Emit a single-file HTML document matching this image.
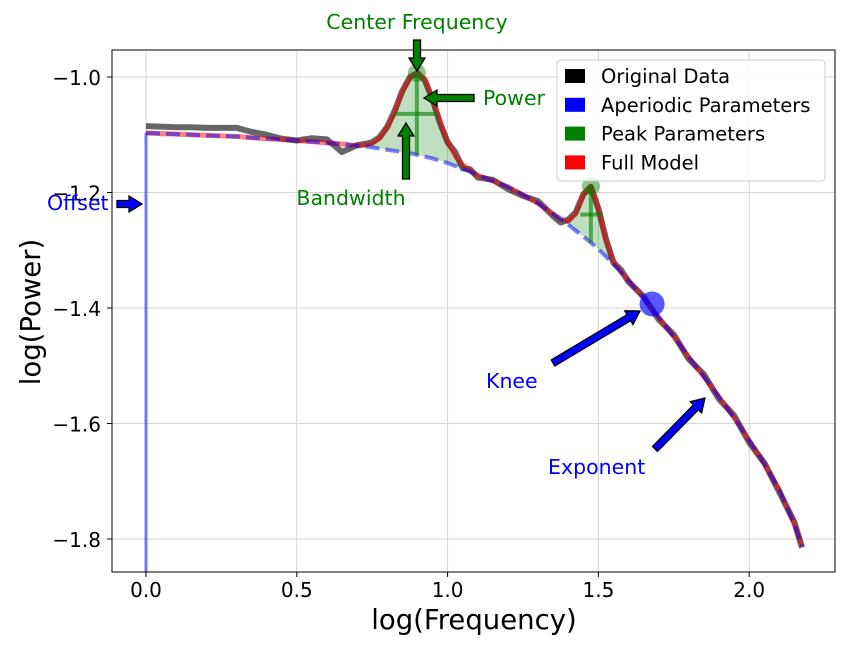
<!DOCTYPE html>
<html><head><meta charset="utf-8"><style>
body{margin:0;background:#fff}
svg text{font-family:"DejaVu Sans","Liberation Sans",sans-serif}
</style></head><body>
<svg id="chart" width="850" height="650" xmlns="http://www.w3.org/2000/svg">
<g id="grid"></g>
<g id="plot"></g>
<g id="axes"></g>
<g id="annot"></g>
<g id="legend"></g>
</svg>
<script>
const freqs=[0,0.05,0.1,0.15,0.2,0.25,0.3,0.35,0.4,0.45,0.5,0.55,0.6,0.65,0.7,0.725,0.75,0.775,0.8,0.825,0.85,0.875,0.9,0.925,0.95,0.975,1.0,1.025,1.05,1.075,1.1,1.15,1.2,1.25,1.3,1.35,1.375,1.4,1.425,1.45,1.475,1.5,1.525,1.55,1.575,1.6,1.65,1.7,1.75,1.8,1.85,1.9,1.95,2.0,2.05,2.1,2.15,2.175];
const aperiodic=[-1.097,-1.098,-1.099,-1.100,-1.101,-1.102,-1.103,-1.105,-1.107,-1.108,-1.110,-1.112,-1.114,-1.116,-1.119,-1.120,-1.122,-1.124,-1.126,-1.128,-1.130,-1.132,-1.135,-1.138,-1.141,-1.145,-1.149,-1.154,-1.159,-1.164,-1.170,-1.180,-1.190,-1.204,-1.219,-1.237,-1.246,-1.256,-1.266,-1.276,-1.287,-1.298,-1.311,-1.324,-1.338,-1.352,-1.383,-1.416,-1.450,-1.485,-1.519,-1.554,-1.590,-1.629,-1.670,-1.715,-1.775,-1.812];
const fullModel=[-1.097,-1.098,-1.099,-1.100,-1.101,-1.102,-1.103,-1.105,-1.107,-1.108,-1.110,-1.112,-1.114,-1.116,-1.119,-1.118,-1.115,-1.106,-1.088,-1.060,-1.026,-1.001,-0.993,-1.004,-1.037,-1.077,-1.111,-1.136,-1.152,-1.162,-1.170,-1.180,-1.190,-1.204,-1.219,-1.237,-1.246,-1.250,-1.237,-1.204,-1.189,-1.226,-1.282,-1.318,-1.338,-1.352,-1.383,-1.416,-1.450,-1.485,-1.519,-1.554,-1.590,-1.629,-1.670,-1.715,-1.775,-1.812];
const data=[-1.085,-1.086,-1.087,-1.087,-1.088,-1.088,-1.088,-1.095,-1.100,-1.107,-1.110,-1.106,-1.108,-1.130,-1.118,-1.116,-1.113,-1.104,-1.086,-1.058,-1.024,-1.000,-0.993,-1.006,-1.039,-1.080,-1.113,-1.130,-1.158,-1.160,-1.174,-1.178,-1.194,-1.206,-1.215,-1.241,-1.252,-1.247,-1.234,-1.203,-1.190,-1.228,-1.280,-1.322,-1.334,-1.355,-1.380,-1.420,-1.446,-1.489,-1.515,-1.558,-1.586,-1.633,-1.668,-1.719,-1.771,-1.815];
const xTicks=[0.0,0.5,1.0,1.5,2.0];
const yTicks=[-1.0,-1.2,-1.4,-1.6,-1.8];
const peakCenters=[0.898,1.475];
const peakPowers=[-0.993,-1.189];
const peakBands=[[0.822,0.965],[1.44,1.515]];
const kneePoint=[1.678,-1.393];
const legendLabels=["Original Data","Aperiodic Parameters","Peak Parameters","Full Model"];
const legendColors=["#000","#00f","#008000","#f00"];

const L=112,R=835,T=50,B=572;
const X=v=>146+(v)*301.6;
const Y=v=>77-(v+1.0)*577.5;
const NS="http://www.w3.org/2000/svg";
function mk(tag,attrs,parent,txt){const e=document.createElementNS(NS,tag);for(const k in attrs)e.setAttribute(k,attrs[k]);if(txt!==undefined)e.textContent=txt;parent.appendChild(e);return e;}
const grid=document.getElementById('grid'),plot=document.getElementById('plot'),axes=document.getElementById('axes'),annot=document.getElementById('annot'),legend=document.getElementById('legend');

xTicks.forEach(t=>{
 const gl=mk('line',{x1:X(t),x2:X(t),y1:T,y2:B,stroke:'#d3d3d3','stroke-width':1},grid);
 
 const tk=mk('line',{x1:X(t),x2:X(t),y1:B,y2:B+5,stroke:'#000'},axes);
 
 const tl=mk('text',{x:X(t),y:B+25,'font-size':20,'text-anchor':'middle'},axes,t.toFixed(1));
 
});
yTicks.forEach(t=>{
 const gl=mk('line',{x1:L,x2:R,y1:Y(t),y2:Y(t),stroke:'#d3d3d3','stroke-width':1},grid);
 
 const tk=mk('line',{x1:L-5,x2:L,y1:Y(t),y2:Y(t),stroke:'#000'},axes);
 
 const tl=mk('text',{x:L-11,y:Y(t)+8,'font-size':20,'text-anchor':'end'},axes,'\u2212'+Math.abs(t).toFixed(1));
 
});

function pts(ys){return freqs.map((f,i)=>X(f)+','+Y(ys[i])).join(' ');}
[[0.725,1.1],[1.375,1.575]].forEach(r=>{
 const idx=freqs.map((f,i)=>i).filter(i=>freqs[i]>=r[0]-1e-9&&freqs[i]<=r[1]+1e-9);
 const top=idx.map(i=>X(freqs[i])+','+Y(fullModel[i]));
 const bot=idx.slice().reverse().map(i=>X(freqs[i])+','+Y(aperiodic[i]));
 const p=mk('polygon',{points:top.concat(bot).join(' '),fill:'#008000','fill-opacity':0.25},plot);
 
});
const off=mk('line',{x1:X(0),x2:X(0),y1:Y(aperiodic[0]),y2:B,stroke:'#00f','stroke-opacity':0.5,'stroke-width':3},plot);

const dl=mk('polyline',{points:pts(data),fill:'none',stroke:'#000','stroke-opacity':0.6,'stroke-width':6,'stroke-linejoin':'round'},plot);

const fl=mk('polyline',{points:pts(fullModel),fill:'none',stroke:'#f00','stroke-opacity':0.5,'stroke-width':5,'stroke-linejoin':'round'},plot);

const al=mk('polyline',{points:pts(aperiodic),fill:'none',stroke:'#00f','stroke-opacity':0.5,'stroke-width':4,'stroke-dasharray':'14 6'},plot);


peakCenters.forEach((c,k)=>{
 let ap=aperiodic[0];
 for(let i=1;i<freqs.length;i++){if(freqs[i]>=c){const t=(c-freqs[i-1])/(freqs[i]-freqs[i-1]);ap=aperiodic[i-1]+t*(aperiodic[i]-aperiodic[i-1]);break;}}
 const pw=peakPowers[k];
 const v=mk('line',{x1:X(c),x2:X(c),y1:Y(ap),y2:Y(pw),stroke:'#008000','stroke-opacity':0.6,'stroke-width':4},plot);
 
 const half=(ap+pw)/2;
 const h=mk('line',{x1:X(peakBands[k][0]),x2:X(peakBands[k][1]),y1:Y(half),y2:Y(half),stroke:'#008000','stroke-opacity':0.6,'stroke-width':4},plot);
 
 const d=mk('circle',{cx:X(c),cy:Y(pw),r:9,fill:'#008000','fill-opacity':0.45},plot);
 
});
const kn=mk('circle',{cx:X(kneePoint[0]),cy:Y(kneePoint[1]),r:12.5,fill:'#00f','fill-opacity':0.65},plot);


const bd=mk('rect',{x:L,y:T,width:R-L,height:B-T,fill:'none',stroke:'#000','stroke-width':1},axes);

const xl=mk('text',{x:474,y:629,'font-size':27.5,'text-anchor':'middle'},axes,'log(Frequency)');

const yl=mk('text',{x:0,y:0,'font-size':27.5,'text-anchor':'middle',transform:'translate(40,312) rotate(-90)'},axes,'log(Power)');


function arrow(x1,y1,x2,y2,col,name){
 const dx=x2-x1,dy=y2-y1,len=Math.hypot(dx,dy),ux=dx/len,uy=dy/len,nx=-uy,ny=ux;
 const w=3.5,hw=8,hl=13,bx=x2-ux*hl,by=y2-uy*hl;
 const p=[[x1+nx*w,y1+ny*w],[bx+nx*w,by+ny*w],[bx+nx*hw,by+ny*hw],[x2,y2],[bx-nx*hw,by-ny*hw],[bx-nx*w,by-ny*w],[x1-nx*w,y1-ny*w]];
 const a=mk('polygon',{points:p.map(q=>q.join(',')).join(' '),fill:col,stroke:'#000','stroke-width':1.3},annot);
 
}
arrow(417,40,417,71,'#008000','center-frequency-arrow');
arrow(474,98,424,98,'#008000','power-arrow');
arrow(406,179,406,123,'#008000','bandwidth-arrow');
arrow(117,204,142,204,'#00f','offset-arrow');
arrow(553,363,640,311,'#00f','knee-arrow');
arrow(655,449,705,398,'#00f','exponent-arrow');
function lab(x,y,t,col,anchor,name){const e=mk('text',{x:x,y:y,'font-size':20.5,fill:col,'text-anchor':anchor},annot,t);}
lab(417,29,'Center Frequency','#008000','middle','center-frequency-label');
lab(483,105,'Power','#008000','start','power-label');
lab(351,205,'Bandwidth','#008000','middle','bandwidth-label');
lab(47,210,'Offset','#00f','start','offset-label');
lab(486,388,'Knee','#00f','start','knee-label');
lab(548,474,'Exponent','#00f','start','exponent-label');

const lb=mk('rect',{x:557,y:60,width:268,height:121,rx:4,fill:'#fff','fill-opacity':0.85,stroke:'#ccc'},legend);

legendLabels.forEach((t,i)=>{
 const y=76+i*28.8;
 const s=mk('rect',{x:565,y:y-7,width:20,height:14,fill:legendColors[i]},legend);
 
 const e=mk('text',{x:601,y:y+7,'font-size':19.5},legend,t);
 
});
</script>
</body></html>
